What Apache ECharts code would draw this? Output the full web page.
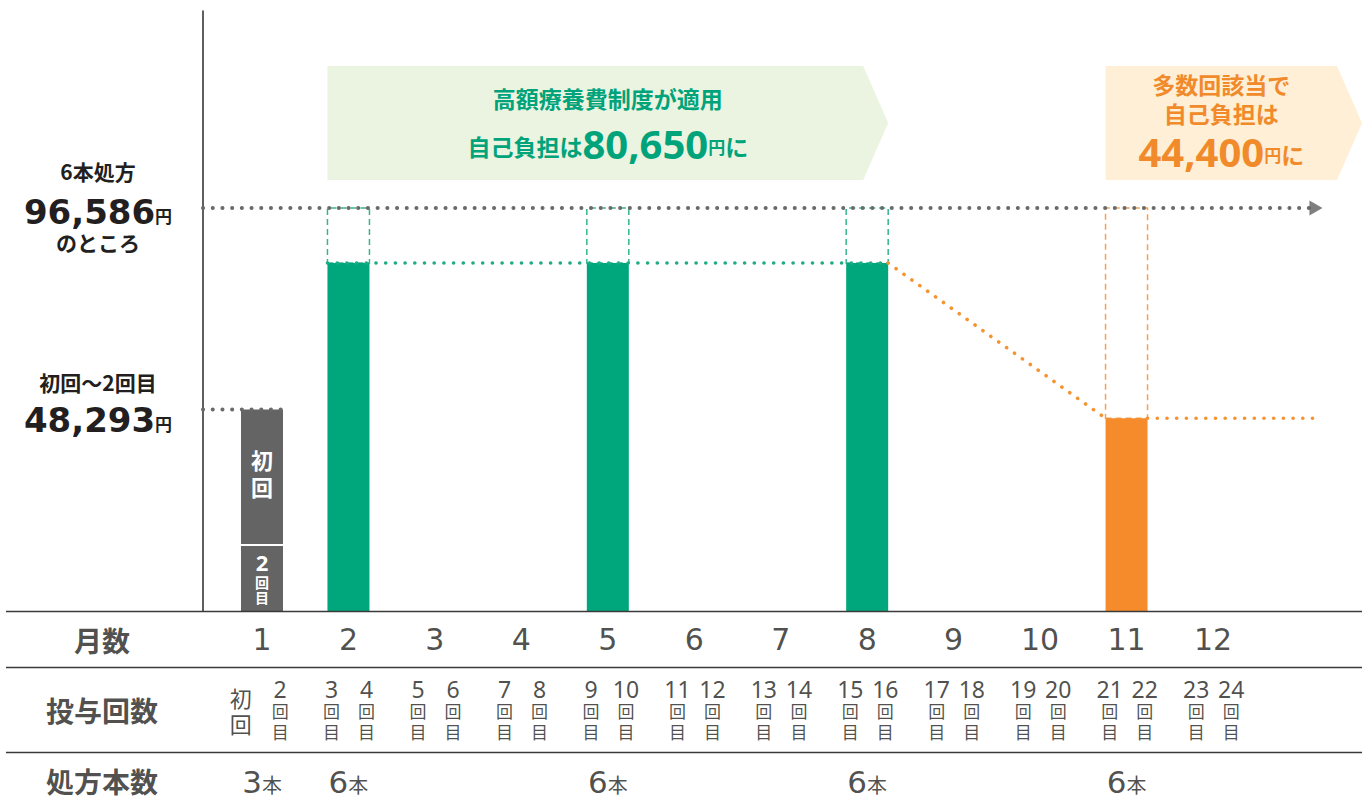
<!DOCTYPE html>
<html><head><meta charset="utf-8">
<script src="https://cdn.jsdelivr.net/npm/echarts@6/dist/echarts.min.js"></script>
<style>html,body{margin:0;padding:0;background:#fff}#c{width:1362px;height:801px}</style>
</head><body><div id="c"></div>
<script>
// ---------- data ----------
const months = [1,2,3,4,5,6,7,8,9,10,11,12];
const doseLabels = ['初回','2','3','4','5','6','7','8','9','10','11','12','13','14','15','16','17','18','19','20','21','22','23','24'];
const rxMonths = [1,2,5,8,11];
const rxCounts = [3,6,6,6,6];
const rowNames = ['月数','投与回数','処方本数'];
const fullCost = 96586;     // 6本処方のところ
const firstCost = 48293;    // 初回～2回目
const greenCost = 80650;    // 高額療養費制度
const orangeCost = 44400;   // 多数回該当
// bar heights as drawn in the picture
const grayMonths = [1];
const graySecond = 15800;   // height of the 2回目 part
const greenMonths = [2,5,8];
const greenBar = 83400;
const orangeMonths = [11];
const orangeBar = 46200;

// ---------- layout helpers ----------
const xMin = 0.31756, xMax = 13.72345, x2Min = -2.0305;
const hw = 21/86.4545; // half bar width in x units
const CJK = "'Noto Sans CJK JP'";
const fmt = v => v.toLocaleString('en-US');
const perMonth = (list, v) => months.map(m => [m, list.includes(m) ? v : '-']);

const banners = [
  {x0: greenMonths[0]-hw, x1: greenMonths[2]+hw, fill:'#ebf4e1', color:'#00a37a', center:'all', dy:-3, aLH:42,
   text:'{a|高額療養費制度が適用}\n{a2|自己負担は}{b|'+fmt(greenCost)+'}{y|円}{a2|に}'},
  {x0: orangeMonths[0]-hw, x1: xMax, fill:'#feefd6', color:'#f08a2a', center:'body', dy:-3, aLH:29,
   text:'{a|多数回該当で}\n{a|自己負担は}\n{b|'+fmt(orangeCost)+'}{y|円}{a2|に}'}
];
const bannerTop = 130600, bannerBottom = 103300;

function richFor(color, aLH){
  return {
    a:{fontSize:23,fontWeight:'bold',fontFamily:CJK,fill:color,lineHeight:aLH},
    a2:{fontSize:23,fontWeight:'bold',fontFamily:CJK,fill:color,lineHeight:44,verticalAlign:'bottom',padding:[0,0,6,0]},
    b:{fontSize:40,fontWeight:'bold',fontFamily:"'Noto Sans'",fill:color,lineHeight:44,verticalAlign:'bottom'},
    y:{fontSize:17,fontWeight:'bold',fontFamily:CJK,fill:color,lineHeight:44,verticalAlign:'bottom',padding:[0,0,8,0]}
  };
}

function renderBanner(params, api){
  const b = banners[params.dataIndex];
  const p0 = api.coord([api.value(0), api.value(2)]);
  const p1 = api.coord([api.value(1), api.value(3)]);
  const tip = 25, midY = (p0[1]+p1[1])/2;
  const tx = b.center === 'all' ? (p0[0]+p1[0])/2 : (p0[0]+p1[0]-tip)/2;
  return {type:'group', children:[
    {type:'polygon', shape:{points:[[p0[0],p0[1]],[p1[0]-tip,p0[1]],[p1[0],midY],[p1[0]-tip,p1[1]],[p0[0],p1[1]]]}, style:{fill:b.fill}},
    {type:'text', x:tx, y:midY+b.dy, style:{text:b.text, rich:richFor(b.color, b.aLH), align:'center', verticalAlign:'middle', fill:b.color}}
  ]};
}

const dotted = (color, w) => ({color:color, width:w, type:[0.1, 9.6], cap:'round'});
const lineSeries = (data, color, w) => ({type:'line', data:data, showSymbol:false, symbol:'none', lineStyle:dotted(color,w), z:5, silent:true});
const dashedBox = (list, top, color) => ({
  silent:true, itemStyle:{color:'rgba(0,0,0,0)', borderColor:color, borderWidth:1.5, borderType:[6,4]},
  data: list.map(m => [{coord:[m-hw, top]}, {coord:[m+hw, fullCost]}])
});

// dose label points
const doseData = doseLabels.map((t,i) => {
  const m = Math.ceil((i+1)/2);
  const x = i === 0 ? m-0.245 : (i%2===0 ? m-0.195 : m+0.21);
  return [x, 1, t];
});

const chart = echarts.init(document.getElementById('c'), null, {renderer:'svg'});
chart.setOption({
  animation:false,
  grid:[
    {left:203, right:0, top:11, bottom:190},
    {left:0, right:0, top:611, bottom:0}
  ],
  xAxis:[
    {type:'value', gridIndex:0, min:xMin, max:xMax, show:false},
    {type:'value', gridIndex:1, min:x2Min, max:xMax, show:false}
  ],
  yAxis:[
    {type:'value', gridIndex:0, min:0, max:143800, interval:firstCost,
     axisLine:{show:true, lineStyle:{color:'#2a2a2a', width:1.5}},
     axisTick:{show:false}, splitLine:{show:false},
     axisLabel:{show:true, align:'center', margin:105,
       formatter: v => v === fullCost ? '{a|6本処方}\n{b|'+fmt(fullCost)+'}{y|円}\n{c|のところ}\n{t| }'
                    : v === firstCost ? '{a2|初回～2回目}\n{b|'+fmt(firstCost)+'}{y|円}\n{s| }' : '',
       rich:{
         a:{fontSize:21,fontWeight:'bold',fontFamily:CJK,color:'#231f20',lineHeight:36},
         a2:{fontSize:21,fontWeight:'bold',fontFamily:CJK,color:'#231f20',lineHeight:31},
         c:{fontSize:21,fontWeight:'bold',fontFamily:CJK,color:'#231f20',lineHeight:26},
         b:{fontSize:34,fontWeight:'bold',fontFamily:"'DejaVu Sans'",color:'#231f20',lineHeight:40,verticalAlign:'bottom'},
         y:{fontSize:17,fontWeight:'bold',fontFamily:CJK,color:'#231f20',lineHeight:40,verticalAlign:'bottom',padding:[0,0,5,0]},
         s:{fontSize:10,lineHeight:15},
         t:{fontSize:6,lineHeight:8}
       }}},
    {type:'value', gridIndex:1, min:-0.411, max:2.284, inverse:true, show:false}
  ],
  graphic:[
    {type:'line', shape:{x1:6,y1:611.5,x2:1362,y2:611.5}, style:{stroke:'#3a3a3a', lineWidth:1.6}, z:50},
    {type:'line', shape:{x1:6,y1:667.5,x2:1362,y2:667.5}, style:{stroke:'#3a3a3a', lineWidth:1.6}, z:50},
    {type:'line', shape:{x1:6,y1:752.5,x2:1362,y2:752.5}, style:{stroke:'#3a3a3a', lineWidth:1.6}, z:50}
  ],
  series:[
    {type:'custom', renderItem:renderBanner, xAxisIndex:0, yAxisIndex:0, silent:true, z:1,
     data: banners.map(b => [b.x0, b.x1, bannerTop, bannerBottom]), encode:{x:[0,1], y:[2,3]}},
    // gray bar: whole (初回～2回目) then lower part (2回目) on top
    {type:'bar', barWidth:42, barGap:'-100%', data:perMonth(grayMonths, firstCost), itemStyle:{color:'#646464'}, z:2,
     label:{show:true, position:'insideTop', distance:36, formatter:'{c|初}\n{c|回}',
       rich:{c:{fontSize:22,fontWeight:'bold',fontFamily:CJK,color:'#fff',lineHeight:27}}}},
    {type:'bar', barWidth:42, barGap:'-100%', data:perMonth(grayMonths, graySecond), itemStyle:{color:'#646464'}, z:2,
     label:{show:true, position:'inside', offset:[0,-1], formatter:'{n|2}\n{k|回}\n{k|目}',
       rich:{n:{fontSize:22,fontWeight:'bold',fontFamily:"'Noto Sans'",color:'#fff',lineHeight:24},
             k:{fontSize:14,fontWeight:'bold',fontFamily:CJK,color:'#fff',lineHeight:15}}}},
    {type:'bar', barWidth:42, barGap:'-100%', data:perMonth(greenMonths, greenBar), itemStyle:{color:'#00a67c'}, z:2,
     markArea: dashedBox(greenMonths, greenBar, '#35b48f')},
    {type:'bar', barWidth:42, barGap:'-100%', data:perMonth(orangeMonths, orangeBar), itemStyle:{color:'#f68b2b'}, z:2,
     markArea: dashedBox(orangeMonths, orangeBar, '#f7a050')},
    // white divider between 初回 and 2回目
    {type:'line', data:[[grayMonths[0]-hw, graySecond],[grayMonths[0]+hw, graySecond]], showSymbol:false, symbol:'none',
     lineStyle:{color:'#ffffff', width:2}, z:4, silent:true},
    // connector dotted lines
    lineSeries([[xMin, fullCost],[13.122, fullCost]], '#6a6a6a', 4),
    lineSeries([[xMin, firstCost],[grayMonths[0]+hw, firstCost]], '#6a6a6a', 4),
    lineSeries([[greenMonths[0]-hw, greenBar],[greenMonths[2]+hw, greenBar]], '#1fac83', 3.6),
    lineSeries([[greenMonths[2]+hw, greenBar],[orangeMonths[0]-hw, orangeBar]], '#f59331', 3.6),
    lineSeries([[orangeMonths[0]+hw, orangeBar],[13.237, orangeBar]], '#f59331', 3.6),
    {type:'scatter', data:[[13.191, fullCost]], symbol:'triangle', symbolRotate:-90, symbolSize:[15,13],
     itemStyle:{color:'#5f5f5f'}, z:6, silent:true, clip:false},
    // table texts
    {type:'scatter', xAxisIndex:1, yAxisIndex:1, symbolSize:1, itemStyle:{color:'rgba(0,0,0,0)'}, silent:true,
     data: rowNames.map((n,i) => [-0.8507, i, n]),
     label:{show:true, position:'inside', formatter: p => p.data[2], fontSize:28, fontWeight:'bold', fontFamily:CJK, color:'#231f20'}},
    {type:'scatter', xAxisIndex:1, yAxisIndex:1, symbolSize:1, itemStyle:{color:'rgba(0,0,0,0)'}, silent:true,
     data: months.map(m => [m, 0, String(m)]),
     label:{show:true, position:'inside', formatter: p => p.data[2], fontSize:30, fontFamily:"'DejaVu Sans'", color:'#231f20'}},
    {type:'scatter', xAxisIndex:1, yAxisIndex:1, symbolSize:1, itemStyle:{color:'rgba(0,0,0,0)'}, silent:true,
     data: doseData,
     label:{show:true, position:'inside',
       formatter: p => p.data[2] === '初回' ? '{c|初}\n{c|回}' : '{n|'+p.data[2]+'}\n{k|回}\n{k|目}',
       rich:{n:{fontSize:23,fontFamily:"'Noto Sans'",color:'#231f20',lineHeight:22},
             k:{fontSize:17,fontFamily:CJK,color:'#231f20',lineHeight:21},
             c:{fontSize:22,fontFamily:CJK,color:'#231f20',lineHeight:26}}}},
    {type:'scatter', xAxisIndex:1, yAxisIndex:1, symbolSize:1, itemStyle:{color:'rgba(0,0,0,0)'}, silent:true,
     data: rxMonths.map((m,i) => [m, 2, String(rxCounts[i])]),
     label:{show:true, position:'inside', formatter: p => '{n|'+p.data[2]+'}{u|本}',
       rich:{n:{fontSize:31,fontFamily:"'DejaVu Sans'",color:'#231f20',lineHeight:34,verticalAlign:'bottom'},
             u:{fontSize:20,fontFamily:CJK,color:'#231f20',lineHeight:34,verticalAlign:'bottom',padding:[0,0,3,0]}}}}
  ]
});
</script></body></html>
